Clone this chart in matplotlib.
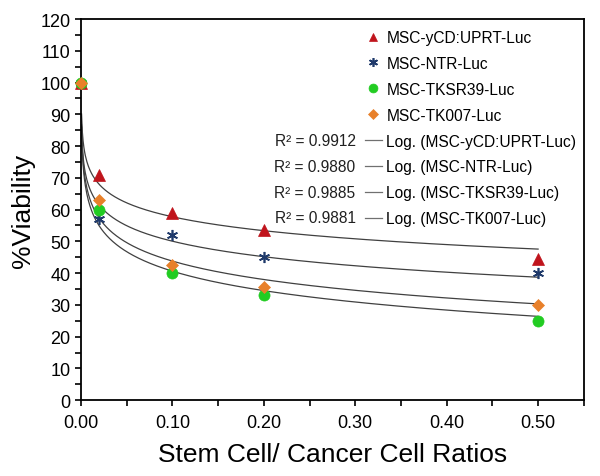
import numpy as np
import matplotlib
matplotlib.use("Agg")
import matplotlib.pyplot as plt
from matplotlib.lines import Line2D

plt.rcParams['font.family'] = ['Liberation Sans', 'DejaVu Sans']

ratios = [0.0, 0.02, 0.10, 0.20, 0.50]
fit_x0 = 1e-4  # stand-in for ratio 0 when fitting the log trendline
series_names = ["MSC-yCD:UPRT-Luc", "MSC-NTR-Luc", "MSC-TKSR39-Luc", "MSC-TK007-Luc"]
ycd = [100, 71, 59, 53.5, 44.5]
ntr = [100, 57, 52, 45, 40]
tksr39 = [100, 60, 40, 33, 25]
tk007 = [100, 63, 42.5, 35.5, 30]
r2_labels = ["R² = 0.9912", "R² = 0.9880", "R² = 0.9885", "R² = 0.9881"]

values = [ycd, ntr, tksr39, tk007]
colors = ["#C0141C", "#1F3A6B", "#22CC22", "#E8802A"]
markers = ["^", (6, 2, 0), "o", "D"]
msizes = [8, 8, 8, 6]

fig = plt.figure(figsize=(6.0, 4.77), dpi=100)
ax = fig.add_axes([0.135, 0.159, 0.838, 0.799])

xfit_data = np.array([fit_x0] + ratios[1:])
xs = np.linspace(0.0006, ratios[-1], 600)
for vals in values:
    a, b = np.polyfit(np.log(xfit_data), np.array(vals, float), 1)
    ax.plot(xs, a * np.log(xs) + b, color="#404040", lw=0.9, zorder=2)

for vals, c, m, ms in zip(values, colors, markers, msizes):
    mew = 1.2 if m == (6, 2, 0) else 0.5
    ax.plot(ratios, vals, linestyle="none", marker=m, color=c, markersize=ms,
            markeredgewidth=mew, markeredgecolor=c, zorder=3, clip_on=False)

ax.set_xlim(0, 0.55)
ax.set_ylim(0, 120)
xt = np.arange(0, 0.551, 0.05)
ax.set_xticks(xt)
ax.set_xticklabels([f"{v:.2f}" if i % 2 == 0 else "" for i, v in enumerate(xt)])
ax.set_yticks(np.arange(0, 121, 10))
ax.set_yticks(np.arange(0, 121, 5), minor=True)
ax.tick_params(axis='both', which='both', direction='out', length=4, width=1.2, labelsize=13, colors='black')
ax.tick_params(axis='x', pad=6)
for s in ax.spines.values():
    s.set_linewidth(1.3)

ax.set_ylabel("%Viability", fontsize=19, labelpad=4)
ax.set_xlabel("Stem Cell/ Cancer Cell Ratios", fontsize=19, labelpad=8)

handles = []
labels = []
for name, c, m, ms in zip(series_names, colors, markers, msizes):
    mew = 1.2 if m == (6, 2, 0) else 0.5
    handles.append(Line2D([], [], linestyle="none", marker=m, color=c, markersize=ms * 0.8,
                          markeredgewidth=mew))
    labels.append(name)
for name in series_names:
    handles.append(Line2D([], [], color="#707070", lw=0.9))
    labels.append(f"Log. ({name})")
ax.legend(handles, labels, loc="upper right", bbox_to_anchor=(1.01, 1.004), frameon=False,
          fontsize=11.2, handlelength=1.1, handletextpad=0.3, labelspacing=0.70, borderpad=0.3)

for i, t in enumerate(r2_labels):
    ax.text(0.546, 0.682 - i * 0.0680, t, transform=ax.transAxes, ha="right", va="center",
            fontsize=11.2, color="#202020")

fig.savefig("out.png", dpi=100)
